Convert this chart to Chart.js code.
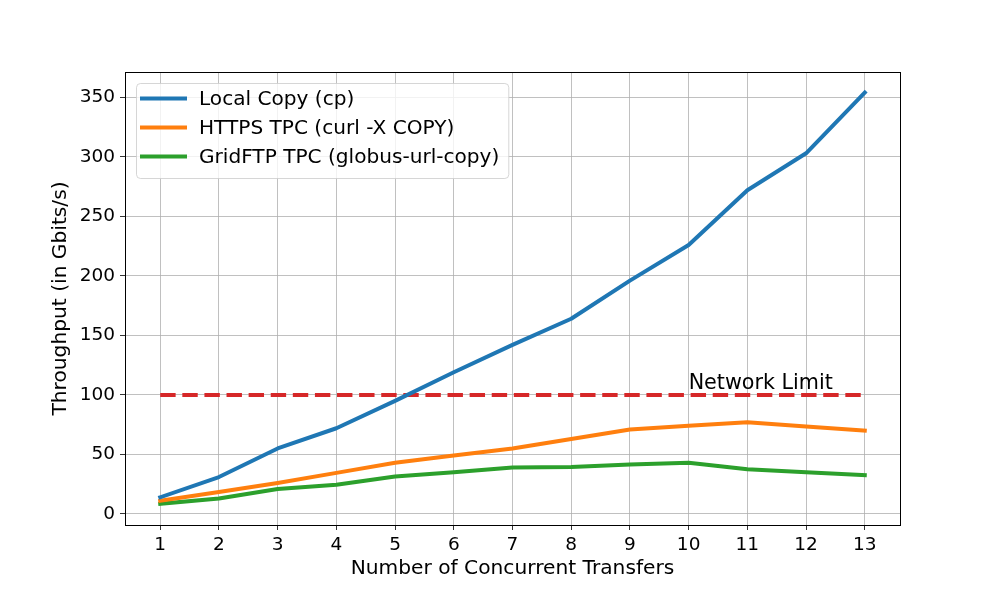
<!DOCTYPE html>
<html>
<head>
<meta charset="utf-8">
<title>Throughput vs concurrent transfers</title>
<script src="https://cdn.jsdelivr.net/npm/chart.js@4/dist/chart.umd.min.js"></script>
<style>
  html, body { margin: 0; padding: 0; background: #fff; }
  #chart { display: block; }
</style>
</head>
<body>
<canvas id="chart" width="1000" height="600"></canvas>
<script>
// chart data
const transfers = [1, 2, 3, 4, 5, 6, 7, 8, 9, 10, 11, 12, 13];
const localCopy = [14, 31, 55, 72, 95, 119, 142, 164, 196, 226, 272, 303, 354];
const httpsTpc = [11, 18.5, 26, 34.5, 43, 49, 55, 63, 71, 74, 77, 73.5, 70];
const gridftpTpc = [8.5, 13, 21, 24.5, 31.5, 35, 39, 39.5, 41.5, 43, 37.5, 35, 32.5];
const networkLimit = [100, 100, 100, 100, 100, 100, 100, 100, 100, 100, 100, 100, 100];

const seriesLabels = ["Local Copy (cp)", "HTTPS TPC (curl -X COPY)", "GridFTP TPC (globus-url-copy)"];
const xTicks = [1, 2, 3, 4, 5, 6, 7, 8, 9, 10, 11, 12, 13];
const yTicks = [0, 50, 100, 150, 200, 250, 300, 350];
const limitText = "Network Limit";
const limitTextAt = [10, 105];

const FONT = "DejaVu Sans";

/**
 * Turns two parallel arrays into {x, y} points
 */
const toPoints = (xs, ys) => xs.map((x, i) => ({ x: x, y: ys[i] }));

/**
 * Draws the box round the plot, the in-plot legend and the limit label
 */
const extrasPlugin = {
  id: "extras",
  afterDraw(chart) {
    const ctx = chart.ctx;
    const area = chart.chartArea;
    const xs = chart.scales.x;
    const ys = chart.scales.y;

    // label for the dashed network line
    ctx.save();
    ctx.fillStyle = "#000";
    ctx.font = "20.7px '" + FONT + "'";
    ctx.textAlign = "left";
    ctx.textBaseline = "alphabetic";
    ctx.fillText(limitText, xs.getPixelForValue(limitTextAt[0]), ys.getPixelForValue(limitTextAt[1]));
    ctx.restore();

    // frame on all four sides
    ctx.save();
    ctx.strokeStyle = "#000";
    ctx.lineWidth = 1;
    ctx.strokeRect(Math.round(area.left) + 0.5, Math.round(area.top) + 0.5,
      Math.round(area.right - area.left), Math.round(area.bottom - area.top));
    ctx.restore();

    // legend in the upper left corner
    const items = chart.data.datasets.filter((ds) => !ds.borderDash);
    ctx.save();
    ctx.font = "20.1px '" + FONT + "'";
    let maxW = 0;
    items.forEach((ds) => { maxW = Math.max(maxW, ctx.measureText(ds.label).width); });
    const bx = area.left + 11;
    const by = area.top + 11;
    const rowH = 29;
    const bw = 63 + maxW + 9;
    const bh = 14 + rowH * items.length - 6;
    ctx.beginPath();
    ctx.roundRect(bx + 0.5, by + 0.5, bw, bh, 4);
    ctx.fillStyle = "rgba(255,255,255,0.8)";
    ctx.fill();
    ctx.strokeStyle = "rgba(204,204,204,0.8)";
    ctx.lineWidth = 1;
    ctx.stroke();
    items.forEach((ds, i) => {
      const cy = by + 15.5 + rowH * i;
      ctx.beginPath();
      ctx.moveTo(bx + 6, cy);
      ctx.lineTo(bx + 49, cy);
      ctx.strokeStyle = ds.borderColor;
      ctx.lineWidth = ds.borderWidth;
      ctx.lineCap = "square";
      ctx.stroke();
      ctx.fillStyle = "#000";
      ctx.textAlign = "left";
      ctx.textBaseline = "middle";
      ctx.fillText(ds.label, bx + 63, cy + 1);
    });
    ctx.restore();
  },
};

const lineSet = (label, xs, ys, color, dash) => ({
  label: label,
  data: toPoints(xs, ys),
  borderColor: color,
  backgroundColor: color,
  borderWidth: 4,
  borderDash: dash,
  borderCapStyle: dash ? "butt" : "square",
  borderJoinStyle: "round",
  pointRadius: 0,
  tension: 0,
  fill: false,
});

const renderChart = () => {
  const canvas = document.querySelector("#chart");
  Chart.defaults.font.family = FONT;
  Chart.defaults.color = "#000";

  new Chart(canvas, {
    type: "line",
    data: {
      datasets: [
        lineSet(seriesLabels[0], transfers, localCopy, "#1f77b4"),
        lineSet(seriesLabels[1], transfers, httpsTpc, "#ff7f0e"),
        lineSet(seriesLabels[2], transfers, gridftpTpc, "#2ca02c"),
        lineSet("Network Limit line", transfers, networkLimit, "#d62728", [15.4, 6.7]),
      ],
    },
    options: {
      responsive: false,
      animation: false,
      devicePixelRatio: 1,
      layout: { padding: { left: 0, top: 72, right: 100, bottom: 0 } },
      plugins: { legend: { display: false }, tooltip: { enabled: false } },
      scales: {
        x: {
          type: "linear",
          min: 0.4,
          max: 13.6,
          afterBuildTicks: (scale) => { scale.ticks = xTicks.map((v) => ({ value: v })); },
          afterFit: (scale) => { scale.height = 75; },
          grid: { color: "#b0b0b0", lineWidth: 0.8, tickColor: "#000", tickLength: 5 },
          border: { display: true, color: "#000", width: 1 },
          ticks: { font: { size: 18.5 }, color: "#000", padding: 4, maxRotation: 0, autoSkip: false },
          title: {
            display: true,
            text: "Number of Concurrent Transfers",
            font: { size: 20.2 },
            color: "#000",
            padding: { top: 0, bottom: 19 },
          },
        },
        y: {
          type: "linear",
          min: -9.3,
          max: 371.3,
          afterBuildTicks: (scale) => { scale.ticks = yTicks.map((v) => ({ value: v })); },
          afterFit: (scale) => { scale.width = 125; },
          grid: { color: "#b0b0b0", lineWidth: 0.8, tickColor: "#000", tickLength: 5 },
          border: { display: true, color: "#000", width: 1 },
          ticks: { font: { size: 18.5 }, color: "#000", padding: 5 },
          title: {
            display: true,
            text: "Throughput (in Gbits/s)",
            font: { size: 20.2 },
            color: "#000",
            padding: { top: 48.5, bottom: 0 },
          },
        },
      },
    },
    plugins: [extrasPlugin],
  });
};

window.addEventListener("load", () => {
  renderChart();
});
</script>
</body>
</html>
